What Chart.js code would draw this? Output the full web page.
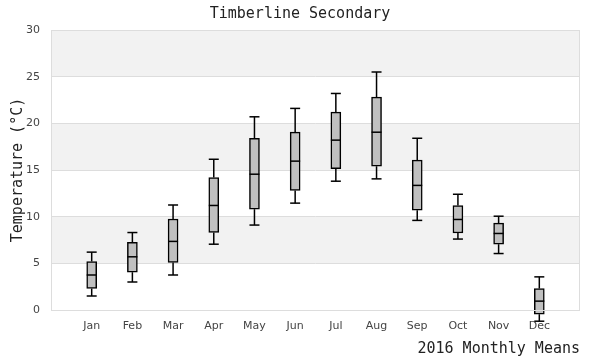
<!DOCTYPE html>
<html>
<head>
<meta charset="utf-8">
<script src="https://cdn.jsdelivr.net/npm/chart.js@4.4.0/dist/chart.umd.min.js"></script>
<style>
  html, body { margin: 0; padding: 0; background: #fff; }
  #wrap { width: 600px; height: 360px; }
</style>
</head>
<body>
<div id="wrap"><canvas id="box"></canvas></div>
<script>
const MONTHS   = ['Jan','Feb','Mar','Apr','May','Jun','Jul','Aug','Sep','Oct','Nov','Dec'];
const LOW      = [1.5, 3.0, 3.75, 7.05, 9.1, 11.45, 13.8, 14.05, 9.6, 7.6, 6.05, -1.2];
const Q1       = [2.3, 4.05, 5.1, 8.3, 10.8, 12.8, 15.15, 15.4, 10.7, 8.25, 7.05, -0.45];
const MEDIAN   = [3.75, 5.7, 7.35, 11.2, 14.55, 15.95, 18.2, 19.05, 13.35, 9.7, 8.2, 0.95];
const Q3       = [5.2, 7.25, 9.75, 14.2, 18.4, 19.05, 21.2, 22.8, 16.05, 11.2, 9.3, 2.3];
const HIGH     = [6.2, 8.3, 11.25, 16.15, 20.7, 21.6, 23.2, 25.5, 18.4, 12.4, 10.05, 3.55];
const Y_TICKS  = [0, 5, 10, 15, 20, 25, 30];

const MONO = '"DejaVu Sans Mono", monospace';
const SANS = '"DejaVu Sans", sans-serif';

// labels padded with an empty slot each side so Jan..Dec sit one step in from the frame
const labels = ['', ...MONTHS, ''];
const boxes  = [null, ...MONTHS.map((m, i) => [Q1[i], Q3[i]]), null];

const bandsPlugin = {
    id: 'bands',
    beforeDraw(chart) {
        const { ctx, chartArea: a, scales: { y } } = chart;
        ctx.save();
        for (let i = 1; i < Y_TICKS.length - 1; i += 2) {
            const top = y.getPixelForValue(Y_TICKS[i + 1]);
            const bot = y.getPixelForValue(Y_TICKS[i]);
            ctx.fillStyle = '#f2f2f2';
            ctx.fillRect(a.left, top, a.right - a.left, bot - top);
        }
        ctx.restore();
    },
    afterDraw(chart) {
        const { ctx, chartArea: a } = chart;
        ctx.save();
        ctx.strokeStyle = '#dddddd';
        ctx.lineWidth = 1;
        ctx.strokeRect(a.left + 0.5, a.top + 0.5, a.right - a.left - 1, a.bottom - a.top);
        ctx.restore();
    }
};

const whiskerPlugin = {
    id: 'whiskers',
    afterDatasetsDraw(chart) {
        const { ctx, scales: { x, y } } = chart;
        const half = 5;
        ctx.save();
        ctx.strokeStyle = '#000';
        ctx.lineWidth = 1.5;
        const line = (x1, y1, x2, y2) => { ctx.beginPath(); ctx.moveTo(x1, y1); ctx.lineTo(x2, y2); ctx.stroke(); };
        MONTHS.forEach((m, i) => {
            const px = x.getPixelForValue(i + 1);
            const yHi = y.getPixelForValue(HIGH[i]), yQ3 = y.getPixelForValue(Q3[i]);
            const yLo = y.getPixelForValue(LOW[i]),  yQ1 = y.getPixelForValue(Q1[i]);
            const yMd = y.getPixelForValue(MEDIAN[i]);
            line(px, yHi, px, yQ3);
            line(px, yQ1, px, yLo);
            line(px - half, yHi, px + half, yHi);
            line(px - half, yLo, px + half, yLo);
            line(px - half, yMd, px + half, yMd);
        });
        ctx.restore();
    }
};

new Chart(document.getElementById('box'), {
    type: 'bar',
    data: {
        labels,
        datasets: [{
            data: boxes,
            backgroundColor: '#c0c0c0',
            borderColor: '#000',
            borderWidth: 1.5,
            borderSkipped: false,
            barThickness: 10,
            clip: false
        }]
    },
    options: {
        responsive: true,
        maintainAspectRatio: false,
        animation: false,
        layout: { padding: 0 },
        plugins: {
            legend: { display: false },
            tooltip: { enabled: false },
            title: {
                display: true,
                text: 'Timberline Secondary',
                color: '#222',
                font: { family: MONO, size: 15, weight: 'normal' },
                padding: { top: 5, bottom: 7 }
            }
        },
        scales: {
            x: {
                offset: false,
                afterFit: s => { s.height = 50; },
                grid: { display: false, drawTicks: false },
                border: { display: false },
                ticks: { color: '#444', font: { family: SANS, size: 11 }, padding: 10, autoSkip: false, maxRotation: 0 },
                title: {
                    display: true,
                    text: '2016 Monthly Means',
                    align: 'end',
                    color: '#222',
                    font: { family: MONO, size: 15 },
                    padding: { top: 0, bottom: 2 }
                }
            },
            y: {
                min: 0,
                max: 30,
                afterFit: s => { s.width = 51; },
                grid: { color: '#dddddd', drawTicks: false },
                border: { display: false },
                ticks: { stepSize: 5, color: '#444', font: { family: SANS, size: 11 }, padding: 11 },
                title: {
                    display: true,
                    text: 'Temperature (°C)',
                    color: '#222',
                    font: { family: MONO, size: 15 },
                    padding: { top: 9, bottom: 0 }
                }
            },
            // empty right-hand strip so the title stays centred on the whole canvas
            pad: {
                position: 'right',
                afterFit: s => { s.width = 20; },
                grid: { display: false, drawTicks: false },
                border: { display: false },
                ticks: { display: false }
            }
        }
    },
    plugins: [bandsPlugin, whiskerPlugin]
});
</script>
</body>
</html>
